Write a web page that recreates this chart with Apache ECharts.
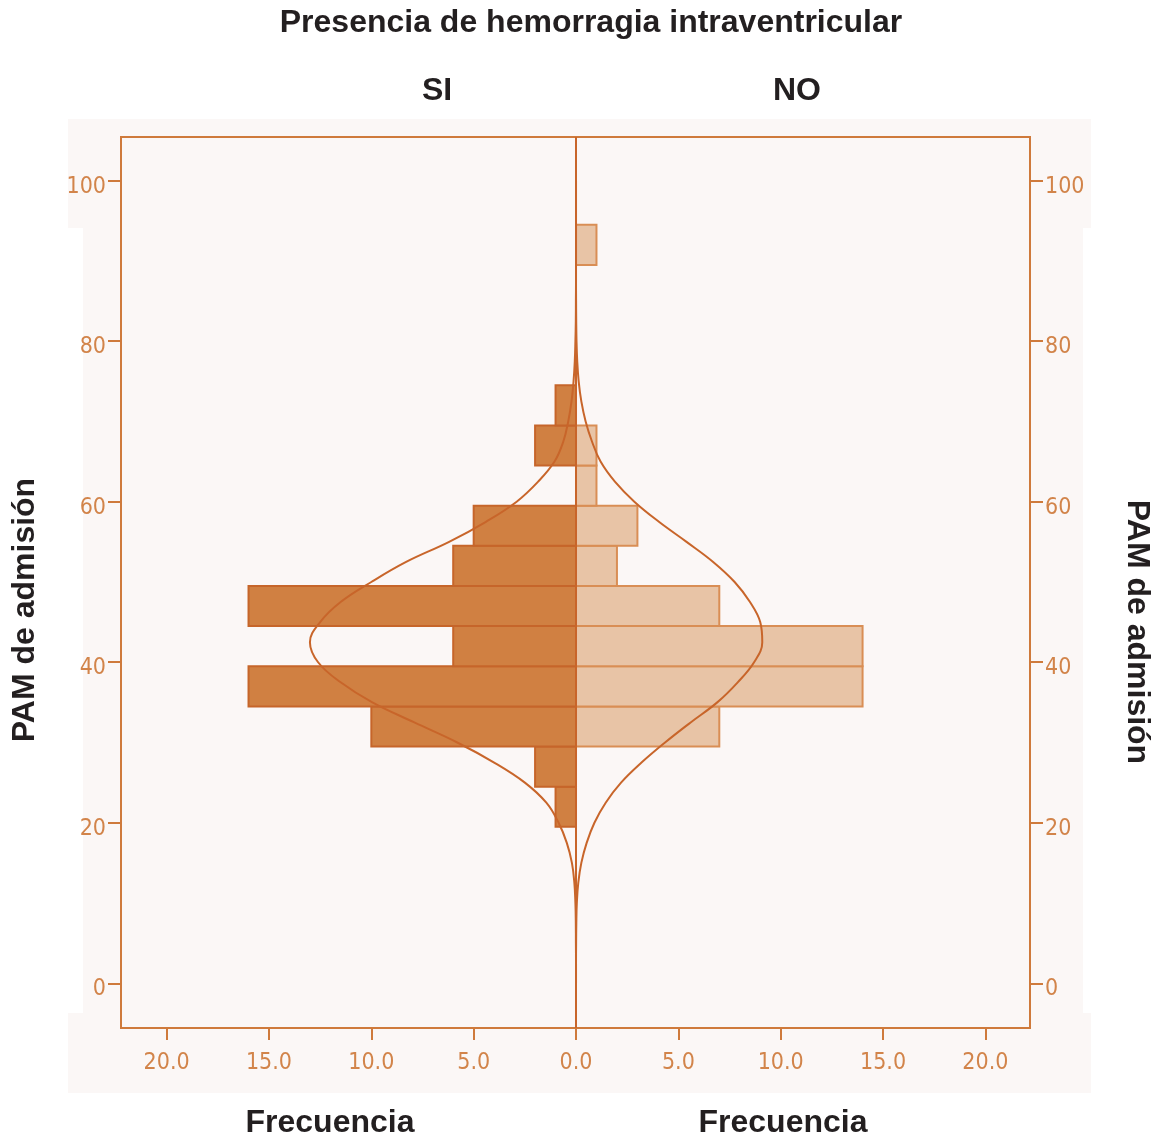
<!DOCTYPE html>
<html>
<head>
<meta charset="utf-8">
<title>PAM de admisión según hemorragia intraventricular</title>
<script src="https://cdn.jsdelivr.net/npm/echarts@6/dist/echarts.min.js"></script>
<style>
  html, body { margin: 0; padding: 0; background: #ffffff; }
  #chart { width: 1156px; height: 1139px; }
</style>
</head>
<body>
<div id="chart"></div>
<script>
// Histogram bins of PAM de admisión (lower edge of each 5-unit bin)
const binStart = [19.5, 24.5, 29.5, 34.5, 39.5, 44.5, 49.5, 54.5, 59.5, 64.5, 69.5, 74.5, 79.5, 84.5, 89.5];
const binWidth = 5;
// Frequencies per bin for each group
const siFreq = [1, 2, 10, 16, 6, 16, 6, 5, 0, 2, 1, 0, 0, 0, 0];
const noFreq = [0, 0, 7, 14, 14, 7, 2, 3, 1, 1, 0, 0, 0, 0, 1];

// Normal curves overlaid on each histogram (frequency at each PAM value)
const curvePam = [0, 2.5, 5, 7.5, 10, 12.5, 15, 17.5, 20, 22.5, 25, 27.5, 30, 32.5, 35, 37.5, 40, 42.5, 45, 47.5, 50,
                  52.5, 55, 57.5, 60, 62.5, 65, 67.5, 70, 72.5, 75, 77.5, 80, 82.5, 85, 87.5, 90, 92.5, 95, 97.5, 100];
const siCurve = [0, 0, 0.005, 0.01, 0.03, 0.08, 0.2, 0.45, 0.85, 1.45, 2.5, 4.0, 5.8, 7.9, 9.95, 11.5, 12.6, 13.0, 12.5, 11.5, 10.0,
                 8.3, 6.2, 4.4, 2.9, 1.85, 1.05, 0.62, 0.38, 0.22, 0.12, 0.06, 0.03, 0.01, 0.005, 0, 0, 0, 0, 0, 0];
const noCurve = [0, 0, 0.005, 0.015, 0.04, 0.11, 0.26, 0.52, 0.9, 1.45, 2.2, 3.2, 4.35, 5.6, 6.9, 7.9, 8.7, 9.1, 9.0, 8.5, 7.75,
                 6.7, 5.4, 4.05, 2.85, 1.9, 1.2, 0.78, 0.47, 0.26, 0.13, 0.06, 0.025, 0.01, 0.004, 0, 0, 0, 0, 0, 0];

// Axis ticks
const freqTicks = [-20, -15, -10, -5, 0, 5, 10, 15, 20];
const pamTicks = [0, 20, 40, 60, 80, 100];

const axisColor = '#cf7a3b';
const labelColor = '#d2844a';
const curveColor = '#c8652a';
const textColor = '#231f20';
const panelColor = '#fbf7f6';
const tickFont = "'Liberation Sans Narrow', 'Arial Narrow', 'DejaVu Sans Condensed', sans-serif";
const titleFont = "'Liberation Sans', Arial, Helvetica, sans-serif";

const chart = echarts.init(document.getElementById('chart'), null, { renderer: 'canvas' });

function barSeries(name, freq, sign, fill, stroke) {
  const data = [];
  binStart.forEach((b, i) => { if (freq[i] !== 0) data.push([sign * freq[i], b]); });
  return {
    name: name,
    type: 'custom',
    z: 2,
    renderItem: function (params, api) {
      const f = api.value(0);
      const lo = api.value(1);
      const p0 = api.coord([0, lo]);
      const p1 = api.coord([f, lo + binWidth]);
      return {
        type: 'rect',
        shape: {
          x: Math.min(p0[0], p1[0]),
          y: Math.min(p0[1], p1[1]),
          width: Math.abs(p1[0] - p0[0]),
          height: Math.abs(p0[1] - p1[1])
        },
        style: { fill: fill, stroke: stroke, lineWidth: 2 }
      };
    },
    data: data
  };
}

function curveSeries(name, values, sign) {
  return {
    name: name,
    type: 'line',
    z: 4,
    smooth: 0.4,
    showSymbol: false,
    silent: true,
    lineStyle: { color: curveColor, width: 2 },
    data: curvePam.map((p, i) => [sign * values[i], p])
  };
}

function yAxisDef(position) {
  return {
    type: 'value',
    position: position,
    min: -5.57,
    max: 105.44,
    axisLine: { show: true, onZero: false, lineStyle: { color: axisColor, width: 2 } },
    axisTick: { show: true, customValues: pamTicks, length: 13, lineStyle: { color: axisColor, width: 2 } },
    axisLabel: {
      customValues: pamTicks,
      color: labelColor,
      fontSize: 23,
      fontFamily: tickFont,
      margin: 15,
      verticalAlign: 'top',
      lineHeight: 12
    },
    splitLine: { show: false }
  };
}

function text(str, x, y, rotation) {
  return {
    type: 'text',
    x: x,
    y: y,
    rotation: rotation || 0,
    z: 10,
    style: {
      text: str,
      fill: textColor,
      fontSize: 32,
      fontWeight: 'bold',
      fontFamily: titleFont,
      align: 'center',
      verticalAlign: 'middle'
    }
  };
}

const option = {
  backgroundColor: '#ffffff',
  animation: false,
  grid: {
    left: 121, right: 126, top: 137, bottom: 111,
    show: true,
    backgroundColor: panelColor,
    borderColor: axisColor,
    borderWidth: 2
  },
  xAxis: {
    type: 'value',
    min: -22.23,
    max: 22.18,
    axisLine: { show: true, onZero: false, lineStyle: { color: axisColor, width: 2 } },
    axisTick: { show: true, customValues: freqTicks, length: 12, lineStyle: { color: axisColor, width: 2 } },
    axisLabel: {
      customValues: freqTicks,
      formatter: v => Math.abs(v).toFixed(1),
      color: labelColor,
      fontSize: 23,
      fontFamily: tickFont,
      margin: 24
    },
    splitLine: { show: false }
  },
  yAxis: [yAxisDef('left'), yAxisDef('right')],
  graphic: [
    { type: 'rect', z: -10, shape: { x: 83, y: 119, width: 1000, height: 974 }, style: { fill: panelColor } },
    { type: 'rect', z: -10, shape: { x: 68, y: 119, width: 1023, height: 109 }, style: { fill: panelColor } },
    { type: 'rect', z: -10, shape: { x: 68, y: 1013, width: 1023, height: 80 }, style: { fill: panelColor } },
    text('Presencia de hemorragia intraventricular', 591, 23),
    text('SI', 437, 91),
    text('NO', 797, 91),
    text('Frecuencia', 330, 1123),
    text('Frecuencia', 783, 1123),
    text('PAM de admisión', 25, 610, Math.PI / 2),
    text('PAM de admisión', 1137, 632, -Math.PI / 2)
  ],
  series: [
    barSeries('SI', siFreq, -1, '#d08042', '#c6652a'),
    barSeries('NO', noFreq, 1, '#e8c4a6', '#d98e55'),
    curveSeries('Normal SI', siCurve, -1),
    curveSeries('Normal NO', noCurve, 1),
    {
      name: 'centro',
      type: 'line',
      data: [],
      z: 5,
      markLine: {
        silent: true,
        symbol: 'none',
        label: { show: false },
        lineStyle: { color: curveColor, width: 2, type: 'solid' },
        data: [{ xAxis: 0 }]
      }
    }
  ]
};

chart.setOption(option);
</script>
</body>
</html>
